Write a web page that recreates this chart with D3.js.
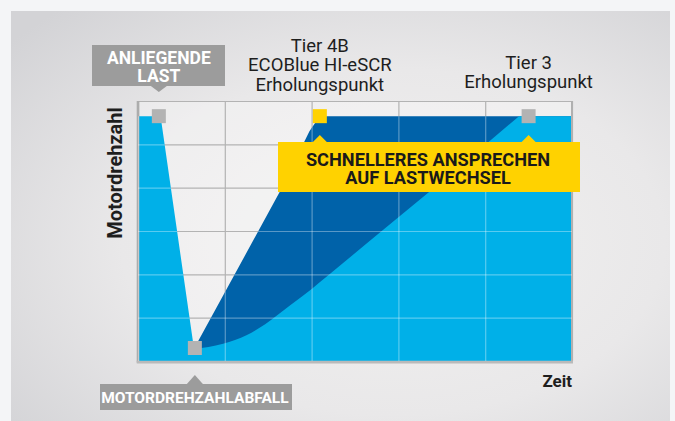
<!DOCTYPE html>
<html>
<head>
<meta charset="utf-8">
<script src="https://cdn.jsdelivr.net/npm/d3@7"></script>
<style>
  html, body { margin: 0; padding: 0; background: #f4f5f7; }
  svg { display: block; font-family: Roboto, "DejaVu Sans", sans-serif; }
</style>
</head>
<body>
<script>
// ---- chart values ----
const timeTicks = [0, 2, 4, 6, 8, 10];
const rpmTicks = [0, 1, 2, 3, 4, 5, 6];

// Tier 3: load step, straight drop, slow curved recovery, then straight climb
const tier3Time = [0, 0.52, 1.29, 1.96, 2.51, 2.93, 3.5, 4.01, 4.35, 5.35, 7.19, 8.78, 10];
const tier3Rpm = [5.65, 5.65, 0.28, 0.40, 0.60, 0.85, 1.28, 1.67, 1.95, 2.78, 4.30, 5.65, 5.65];

// Tier 4B ECOBlue HI-eSCR: fast recovery
const tier4Time = [1.29, 3.27, 3.95, 4.1, 4.3, 10];
const tier4Rpm = [0.28, 3.91, 5.3, 5.52, 5.65, 5.65];

// marked points
const markerName = ["last", "abfall", "tier4", "tier3"];
const markerTime = [0.48, 1.31, 4.19, 9.0];
const markerRpm = [5.65, 0.3, 5.65, 5.65];

// texts
const yTitle = "Motordrehzahl";
const xTitle = "Zeit";
const lastLines = ["ANLIEGENDE", "LAST"];
const abfallLines = ["MOTORDREHZAHLABFALL"];
const tier4Lines = ["Tier 4B", "ECOBlue HI-eSCR", "Erholungspunkt"];
const tier3Lines = ["Tier 3", "Erholungspunkt"];
const fastLines = ["SCHNELLERES ANSPRECHEN", "AUF LASTWECHSEL"];

// ---- layout ----
const W = 675, H = 421;
const m = { left: 138, top: 101, right: 103, bottom: 60 };
const w = W - m.left - m.right, h = H - m.top - m.bottom;

const svg = d3.select("body").append("svg").attr("width", W).attr("height", H);
const defs = svg.append("defs");

// panel background
const grad = defs.append("radialGradient").attr("id", "panelGrad")
  .attr("cx", "58%").attr("cy", "55%").attr("r", "75%");
grad.append("stop").attr("offset", "0%").attr("stop-color", "#f2f1f0");
grad.append("stop").attr("offset", "55%").attr("stop-color", "#e9e8e9");
grad.append("stop").attr("offset", "100%").attr("stop-color", "#d3d3d6");
svg.append("rect").attr("x", 11).attr("y", 11).attr("width", 659).attr("height", 420)
  .attr("fill", "url(#panelGrad)");

const x = d3.scaleLinear().domain([0, 10]).range([0, w]);
const y = d3.scaleLinear().domain([0, 6]).range([h, 0]);

const g = svg.append("g").attr("transform", `translate(${m.left},${m.top})`);

g.append("rect").attr("width", w).attr("height", h).attr("fill", "#ffffff").attr("opacity", 0.3);

// grid drawn through the axis generators
function drawGrid(sel, color, width) {
  sel.append("g").attr("transform", `translate(0,${h})`)
    .call(d3.axisBottom(x).tickValues(timeTicks).tickSize(-h).tickFormat(""))
    .call(a => a.select(".domain").remove())
    .selectAll("line").attr("stroke", color).attr("stroke-width", width);
  sel.append("g")
    .call(d3.axisLeft(y).tickValues(rpmTicks).tickSize(-w).tickFormat(""))
    .call(a => a.select(".domain").remove())
    .selectAll("line").attr("stroke", color).attr("stroke-width", width);
}
drawGrid(g.append("g"), "#b3b3b3", 1.2);

// area paths: straight drop, smooth start of the recovery, straight end
const pts3 = tier3Time.map((t, i) => [t, tier3Rpm[i]]);
const lin = d3.line().x(d => x(d[0])).y(d => y(d[1]));
const mono = d3.line().x(d => x(d[0])).y(d => y(d[1])).curve(d3.curveMonotoneX);
const tier3Path = lin(pts3.slice(0, 3)) +
  mono(pts3.slice(2, 10)).replace(/^M/, "L") +
  lin(pts3.slice(9)).replace(/^M/, "L") +
  `L${x(10)},${y(0)}L${x(0)},${y(0)}Z`;

const tier4Area = d3.area().x(d => x(d[0])).y0(y(0)).y1(d => y(d[1]));
const tier4Path = tier4Area(tier4Time.map((t, i) => [t, tier4Rpm[i]]));

g.append("path").attr("d", tier4Path).attr("fill", "#0062a9");
g.append("path").attr("d", tier3Path).attr("fill", "#00b0e8");

// light grid over the blue areas
const clip = defs.append("clipPath").attr("id", "fillClip");
clip.append("path").attr("d", tier4Path).attr("transform", `translate(${m.left},${m.top})`);
clip.append("path").attr("d", tier3Path).attr("transform", `translate(${m.left},${m.top})`);
const over = svg.append("g").attr("clip-path", "url(#fillClip)")
  .append("g").attr("transform", `translate(${m.left},${m.top})`);
drawGrid(over, "rgba(255,255,255,0.35)", 1.2);

// frame
g.append("line").attr("x1", w).attr("x2", w).attr("y1", 0).attr("y2", h + 1)
  .attr("stroke", "#b0b0b0").attr("stroke-width", 2);
g.append("line").attr("x1", 0).attr("x2", 0).attr("y1", 0).attr("y2", h + 1.5)
  .attr("stroke", "#acacac").attr("stroke-width", 2.6);
g.append("line").attr("x1", -1.3).attr("x2", w + 1).attr("y1", h + 1.2).attr("y2", h + 1.2)
  .attr("stroke", "#bababa").attr("stroke-width", 2.8);

// markers
const markerColor = { last: "#b3b3b3", abfall: "#b3b3b3", tier4: "#ffd200", tier3: "#b3b3b3" };
const ms = 14;
g.selectAll("rect.marker").data(markerName).enter().append("rect")
  .attr("class", "marker")
  .attr("x", (d, i) => x(markerTime[i]) - ms / 2)
  .attr("y", (d, i) => y(markerRpm[i]) - ms / 2)
  .attr("width", ms).attr("height", ms)
  .attr("fill", d => markerColor[d]);

// ---- annotations ----
function box(cx, x0, x1, y0, y1, tipY, fill) {
  const up = tipY < y0;
  const baseY = up ? y0 : y1;
  svg.append("rect").attr("x", x0).attr("y", y0).attr("width", x1 - x0).attr("height", y1 - y0)
    .attr("fill", fill);
  svg.append("path")
    .attr("d", `M${cx - 8},${baseY}L${cx},${tipY}L${cx + 8},${baseY}Z`)
    .attr("fill", fill);
}
function lines(arr, cx, y0, dy, size, weight, color) {
  const t = svg.append("text").attr("text-anchor", "middle")
    .attr("font-size", size).attr("font-weight", weight).attr("fill", color);
  arr.forEach((s, i) => t.append("tspan").attr("x", cx).attr("y", y0 + i * dy).text(s));
}

const px = i => m.left + x(markerTime[i]);

// ANLIEGENDE LAST
box(px(0), 92, 225, 45, 86, 92, "#9c9c9c");
lines(lastLines, px(0), 63.5, 18.5, 17.5, 700, "#ffffff");

// MOTORDREHZAHLABFALL
box(px(1), 100, 292, 384, 410, 375, "#9c9c9c");
lines(abfallLines, px(1), 403, 0, 15.5, 700, "#ffffff");

// Tier 4B
lines(tier4Lines, px(2), 52, 19.3, 18.5, 400, "#1e1e1e");
// Tier 3
lines(tier3Lines, px(3), 69, 19.3, 18.5, 400, "#1e1e1e");

// yellow box with two pointers
svg.append("rect").attr("x", 278).attr("y", 142).attr("width", 302).attr("height", 50).attr("fill", "#ffd200");
[px(2), px(3)].forEach(cx => {
  svg.append("path").attr("d", `M${cx - 7},142L${cx},135L${cx + 7},142Z`).attr("fill", "#ffd200");
});
lines(fastLines, 428, 165.5, 18.5, 18.2, 700, "#1a1a1a");

// axis titles
svg.append("text").attr("transform", `translate(121.5,173) rotate(-90)`)
  .attr("text-anchor", "middle").attr("font-size", 20).attr("font-weight", 700)
  .attr("fill", "#1e1e1e").text(yTitle);
svg.append("text").attr("x", m.left + w).attr("y", 387).attr("text-anchor", "end")
  .attr("font-size", 17).attr("font-weight", 700).attr("fill", "#1e1e1e").text(xTitle);
</script>
</body>
</html>
